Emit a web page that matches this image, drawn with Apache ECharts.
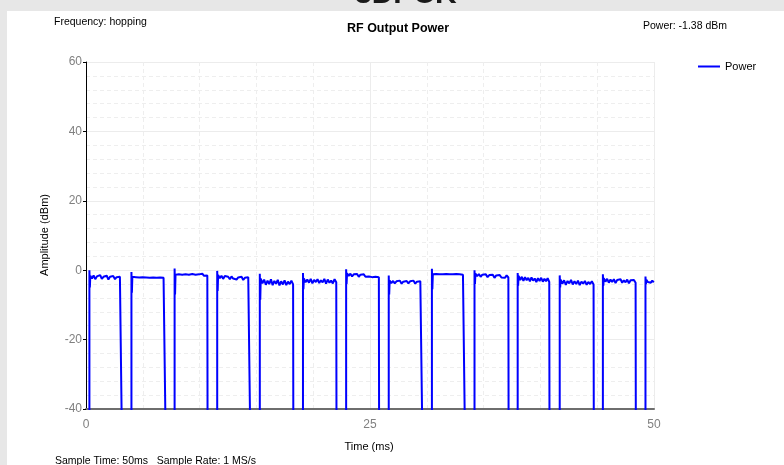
<!DOCTYPE html>
<html>
<head>
    <meta charset="utf-8">
    <title>RF Output Power</title>
    <script src="https://cdn.jsdelivr.net/npm/echarts@6/dist/echarts.min.js"></script>
    <style>
        html, body { margin: 0; padding: 0; background: #e7e7e7; }
        #main { width: 784px; height: 465px; }
    </style>
</head>
<body>
<div id="main"></div>
<script type="text/javascript">
    // burst timing (ms)
    var burstStart = [0.3, 4.0, 7.8, 11.55, 15.3, 19.1, 22.9, 26.65, 30.45, 34.2, 38.0, 41.7, 45.5, 49.25];
    var burstEnd = [3.15, 7.0, 10.7, 14.45, 18.25, 22.05, 25.8, 29.6, 33.35, 37.2, 40.8, 44.7, 48.4, 50];
    // spike and dip at the start of every burst (dBm)
    var burstPeak = [0, -0.5, 0.5, -0.2, -1, -0.8, 0.3, -1.5, 0.4, 0, -0.8, -1.5, -1.2, -1.8];
    var burstDip = [-5, -6.5, -7, -6, -8.5, -5.5, -4, -7, -5.5, -4, -4.5, -5, -4.5, -4];
    // samples across each burst (dBm)
    var burstLevels = [
        [-1.6, -2.4, -1.5, -2.6, -1.8, -2.3, -1.4, -2.5, -1.9, -2.2, -1.6, -2.7, -1.9, -2.3, -1.7, -2.6, -2.0, -2.4, -1.9, -2.3],
        [-1.9, -2.3, -2.0, -2.4, -2.1, -2.3, -2.0, -2.5, -2.1, -2.4, -2.2, -2.5, -2.1, -2.4, -2.2, -2.6, -2.1, -2.4, -2.2, -2.3],
        [-1.3, -1.6, -1.2, -1.7, -1.3, -1.5, -1.2, -1.6, -1.3, -1.5, -1.1, -1.6, -1.3, -1.5, -1.2, -1.4, -1.0, -1.6, -1.3, -1.5],
        [-1.4, -2.3, -1.6, -2.5, -1.7, -2.2, -1.9, -2.6, -1.8, -2.4, -2.0, -2.7, -2.1, -2.5, -1.9, -2.8, -2.2, -2.6, -2.0, -2.5],
        [-2.4, -3.8, -2.7, -4.2, -3.0, -4.0, -2.6, -4.3, -3.1, -3.9, -2.8, -4.4, -3.2, -4.1, -2.9, -4.3, -3.3, -4.0, -3.0, -4.1],
        [-2.4, -3.5, -2.7, -3.6, -2.5, -3.8, -2.8, -3.4, -2.6, -3.7, -2.9, -3.5, -2.5, -3.9, -2.7, -3.6, -3.0, -3.8, -2.6, -3.5],
        [-0.9, -1.6, -1.0, -1.8, -1.2, -1.7, -1.1, -1.9, -1.3, -1.6, -1.2, -1.9, -1.4, -1.8, -1.3, -2.0, -1.5, -1.9, -1.4, -2.0],
        [-3.0, -3.7, -3.1, -3.8, -3.2, -3.6, -3.0, -3.9, -3.3, -3.7, -3.1, -3.8, -3.2, -3.6, -3.0, -3.9, -3.3, -3.7, -3.2, -3.6],
        [-1.2, -1.4, -1.1, -1.5, -1.2, -1.4, -1.2, -1.5, -1.1, -1.4, -1.2, -1.5, -1.2, -1.4, -1.1, -1.5, -1.2, -1.4, -1.3, -1.5],
        [-1.0, -1.7, -1.1, -1.9, -1.3, -1.8, -1.2, -2.0, -1.4, -1.9, -1.3, -2.2, -1.5, -2.0, -1.4, -2.1, -1.6, -2.2, -1.5, -2.1],
        [-1.6, -2.8, -1.9, -3.1, -2.0, -2.9, -2.2, -3.2, -2.1, -3.0, -2.4, -3.4, -2.3, -3.1, -2.2, -3.3, -2.5, -3.2, -2.3, -3.4],
        [-2.7, -3.9, -2.9, -4.2, -3.1, -3.8, -2.8, -4.1, -3.2, -4.0, -3.0, -4.3, -3.3, -3.9, -3.1, -4.2, -3.4, -4.0, -3.2, -4.1],
        [-2.3, -3.3, -2.5, -3.6, -2.7, -3.4, -2.6, -3.7, -2.8, -3.3, -2.6, -3.6, -2.9, -3.5, -2.7, -3.8, -2.9, -3.4, -2.8, -3.6],
        [-2.8, -3.4, -2.9, -3.6, -3.0, -3.5]
    ];
    // level between bursts (below the visible range)
    var floorLevel = -45;
    var yTicks = [-40, -20, 0, 20, 40, 60];
    var xTicks = [0, 25, 50];

    // assemble the trace: floor, rising edge, spike, dip, burst samples, falling edge
    var trace = [[0, floorLevel]];
    burstStart.forEach(function (t0, i) {
        var t1 = burstEnd[i];
        var lv = burstLevels[i];
        trace.push([t0, floorLevel]);
        trace.push([t0, burstPeak[i]]);
        trace.push([t0 + 0.04, burstDip[i]]);
        var a = t0 + 0.08, b = t1 - 0.02;
        for (var k = 0; k < lv.length; k++) {
            trace.push([a + (b - a) * k / (lv.length - 1), lv[k]]);
        }
        if (t1 < 50) {
            trace.push([t1, floorLevel]);
        }
    });

    var chart = echarts.init(document.getElementById('main'));
    var font = '"Liberation Sans", Arial, sans-serif';

    var option = {
        backgroundColor: '#e7e7e7',
        animation: false,
        textStyle: { fontFamily: font },
        graphic: [
            { type: 'rect', z: -10, shape: { x: 7, y: 11, width: 790, height: 470 }, style: { fill: '#ffffff' } },
            { type: 'text', left: 355, top: -20, style: { text: '3DPCK', font: 'bold 30px ' + font, fill: '#1a1a1a' } },
            { type: 'text', left: 54, top: 17, style: { text: 'Frequency: hopping', font: '10.5px ' + font, fill: '#000' } },
            { type: 'text', left: 347, top: 22, style: { text: 'RF Output Power', font: 'bold 12.5px ' + font, fill: '#000' } },
            { type: 'text', left: 643, top: 21, style: { text: 'Power: -1.38 dBm', font: '10.5px ' + font, fill: '#000' } },
            { type: 'text', x: 369, y: 447, style: { text: 'Time (ms)', font: '11px ' + font, fill: '#000', align: 'center', verticalAlign: 'middle' } },
            { type: 'text', x: 45, y: 235, rotation: Math.PI / 2, style: { text: 'Amplitude (dBm)', font: '11px ' + font, fill: '#000', align: 'center', verticalAlign: 'middle' } },
            { type: 'text', left: 55, top: 456, style: { text: 'Sample Time: 50ms   Sample Rate: 1 MS/s', font: '10.5px ' + font, fill: '#000' } }
        ],
        legend: {
            left: 693,
            top: 56,
            icon: 'rect',
            itemWidth: 22,
            itemHeight: 2,
            textStyle: { fontSize: 11, color: '#000', fontFamily: font },
            data: ['Power']
        },
        grid: { left: 86, right: 130, top: 62, bottom: 56 },
        xAxis: {
            type: 'value',
            min: 0,
            max: 50,
            interval: 25,
            axisLine: { onZero: false, lineStyle: { color: '#6e6e6e', width: 2 } },
            axisTick: { show: false },
            axisLabel: {
                color: '#808080', fontSize: 12, margin: 10,
                formatter: function (v) { return xTicks.indexOf(v) >= 0 ? String(v) : ''; }
            },
            splitLine: { show: true, lineStyle: { color: '#ececec' } },
            minorTick: { show: false, splitNumber: 5 },
            minorSplitLine: { show: true, lineStyle: { color: '#eeeeee', type: [4, 3] } }
        },
        yAxis: {
            type: 'value',
            min: -40,
            max: 60,
            interval: 20,
            axisLine: { show: true, onZero: false, lineStyle: { color: '#000', width: 1 } },
            axisTick: { show: true, length: 3, lineStyle: { color: '#000' } },
            axisLabel: {
                color: '#808080', fontSize: 12, margin: 4,
                formatter: function (v) { return yTicks.indexOf(v) >= 0 ? String(v) : ''; }
            },
            splitLine: { show: true, lineStyle: { color: '#ececec' } },
            minorTick: { show: false, splitNumber: 5 },
            minorSplitLine: { show: true, lineStyle: { color: '#eeeeee', type: [4, 3] } }
        },
        series: [{
            name: 'Power',
            type: 'line',
            data: trace,
            showSymbol: false,
            symbol: 'none',
            clip: true,
            color: '#0000ff',
            lineStyle: { color: '#0000ff', width: 2 }
        }]
    };

    chart.setOption(option);
</script>
</body>
</html>
